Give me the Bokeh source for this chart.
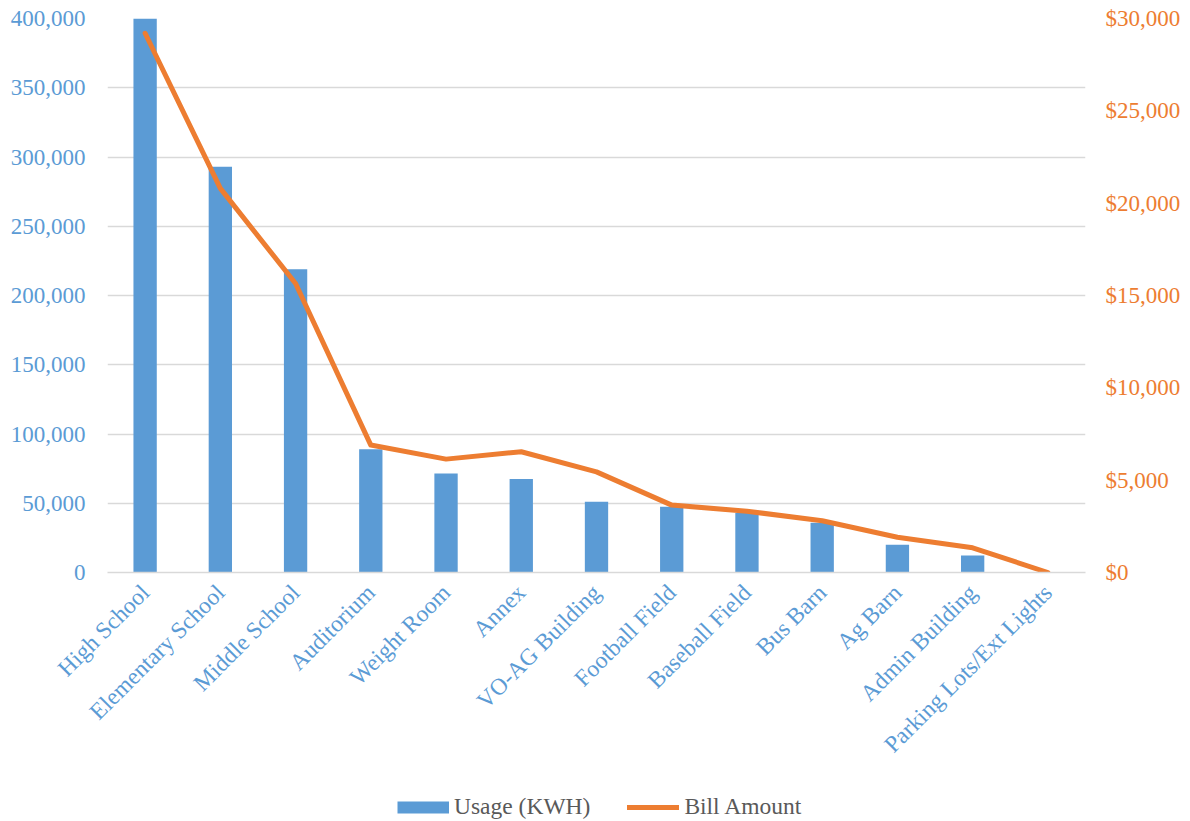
import math

from bokeh.plotting import figure
from bokeh.layouts import column
from bokeh.models import (ColumnDataSource, FixedTicker, Legend, LegendItem,
                          LinearAxis, NumeralTickFormatter, Range1d)
from bokeh.embed import file_html
from bokeh.resources import INLINE

# Annual electricity usage and cost by facility
buildings = [
    "High School", "Elementary School", "Middle School", "Auditorium",
    "Weight Room", "Annex", "VO-AG Building", "Football Field",
    "Baseball Field", "Bus Barn", "Ag Barn", "Admin Building",
    "Parking Lots/Ext Lights",
]
usage_kwh = [400000, 293000, 219000, 89000, 71500, 67500, 51000,
             47500, 43000, 36000, 20000, 12300, 0]
bill_amount = [29200, 20800, 15650, 6900, 6140, 6540, 5450,
               3650, 3320, 2800, 1910, 1340, 0]

usage_ticks = [0, 50000, 100000, 150000, 200000, 250000, 300000, 350000, 400000]
bill_ticks = [0, 5000, 10000, 15000, 20000, 25000, 30000]

BLUE = "#5B9BD5"
ORANGE = "#ED7D31"
GRID = "#D9D9D9"
FONT = "Liberation Serif"
TICK_SIZE = "23px"
LABEL_SIZE = "23.5px"
BORDER_L, BORDER_R = 107, 105

src = ColumnDataSource(dict(building=buildings, usage=usage_kwh, bill=bill_amount))

# ---- main chart -------------------------------------------------------------
p = figure(
    width=1190, height=780,
    x_range=buildings, y_range=Range1d(0, 400000),
    output_backend="svg", toolbar_location=None,
    min_border_left=BORDER_L, min_border_right=BORDER_R,
    min_border_top=18, min_border_bottom=208,
)
p.outline_line_color = None
p.background_fill_color = "white"
p.border_fill_color = "white"

# Left axis: kWh
left = p.left[0]
left.ticker = FixedTicker(ticks=usage_ticks)
left.formatter = NumeralTickFormatter(format="0,0")
left.axis_line_color = None
left.major_tick_line_color = None
left.minor_tick_line_color = None
left.major_tick_out = 0
left.major_tick_in = 0
left.major_label_standoff = 22
left.major_label_text_font = FONT
left.major_label_text_font_size = TICK_SIZE
left.major_label_text_color = BLUE

# Right axis: dollars
p.extra_y_ranges = {"bill": Range1d(0, 30000)}
right = LinearAxis(
    y_range_name="bill",
    ticker=FixedTicker(ticks=bill_ticks),
    formatter=NumeralTickFormatter(format="$0,0"),
    axis_line_color=None,
    major_tick_line_color=None,
    minor_tick_line_color=None,
    major_tick_out=0,
    major_tick_in=0,
    major_label_standoff=20,
    major_label_text_font=FONT,
    major_label_text_font_size=TICK_SIZE,
    major_label_text_color=ORANGE,
)
p.add_layout(right, "right")

# Category axis
xa = p.below[0]
xa.major_label_orientation = math.pi / 4
xa.major_label_text_font = FONT
xa.major_label_text_font_size = LABEL_SIZE
xa.major_label_text_color = BLUE
xa.axis_line_color = GRID
xa.axis_line_width = 1.5
xa.major_tick_line_color = None
xa.minor_tick_line_color = None
xa.major_tick_out = 0
xa.major_tick_in = 0
xa.major_label_standoff = 16

p.xgrid.grid_line_color = None
p.ygrid.ticker = FixedTicker(ticks=usage_ticks)
p.ygrid.grid_line_color = GRID
p.ygrid.grid_line_width = 1.5

p.vbar(x="building", top="usage", width=0.31, source=src,
       fill_color=BLUE, line_color=None)
p.line(x="building", y="bill", source=src, y_range_name="bill",
       line_color=ORANGE, line_width=5, line_cap="round", line_join="round")

# ---- legend strip -----------------------------------------------------------
lp = figure(
    width=1190, height=41,
    x_range=Range1d(0, 10), y_range=Range1d(0, 10),
    x_axis_location=None, y_axis_location=None,
    output_backend="svg", toolbar_location=None,
    min_border_left=BORDER_L, min_border_right=BORDER_R,
    min_border_top=0, min_border_bottom=0,
)
lp.outline_line_color = None
lp.grid.visible = False

# key swatches: off-range single points, so only the legend shows them
usage_key = lp.line([-100], [-100], line_color=BLUE, line_width=12, line_cap="butt")
bill_key = lp.line([-100], [-100], line_color=ORANGE, line_width=5, line_cap="round")

legend = Legend(
    items=[LegendItem(label="Usage (KWH)", renderers=[usage_key]),
           LegendItem(label="Bill Amount", renderers=[bill_key])],
    location=(397 - BORDER_L, 1), orientation="horizontal",
    glyph_width=52, glyph_height=26, label_standoff=5, spacing=37,
    padding=0, margin=0,
    border_line_color=None, background_fill_alpha=0,
    label_text_font=FONT, label_text_font_size=LABEL_SIZE,
    label_text_color="#595959",
)
lp.add_layout(legend, "center")

open("out.html", "w").write(file_html(column(p, lp, spacing=0), INLINE))
